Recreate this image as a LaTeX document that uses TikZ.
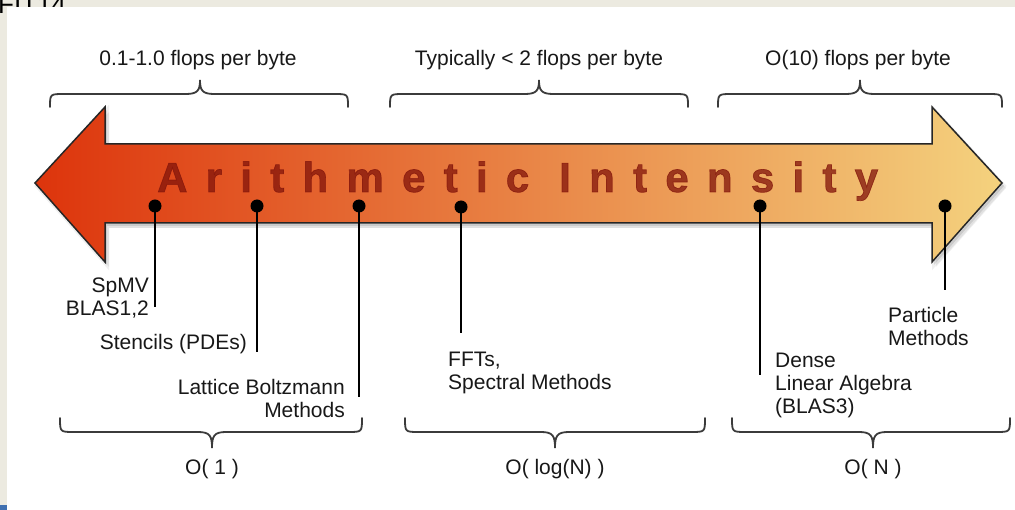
\documentclass[tikz,border=0pt]{standalone}
\usepackage{fontspec}
\setmainfont{Liberation Sans}
\newfontfamily\titlefont[LetterSpace=43.5,FakeBold=1.6]{Liberation Sans}
\definecolor{beige}{RGB}{236,234,224}
\definecolor{arrL}{RGB}{221,52,12}
\definecolor{arrM}{RGB}{228,120,68}
\definecolor{arrR}{RGB}{244,210,126}
\definecolor{titlec}{RGB}{130,20,10}
\definecolor{ink}{RGB}{24,24,24}
\definecolor{slideblue}{RGB}{64,112,176}
\newcommand\mybraceup[3]{%
  \draw[brc] (#1,107) .. controls (#1,94) .. (#1+14,94) -- (#2-14,94)
    .. controls (#2-2,94) and (#2,90) .. (#2,80)
    .. controls (#2,90) and (#2+2,94) .. (#2+14,94) -- (#3-14,94)
    .. controls (#3,94) .. (#3,107);}
\newcommand\mybracedown[3]{%
  \draw[brc] (#1,418) .. controls (#1,432) .. (#1+14,432) -- (#2-14,432)
    .. controls (#2-2,432) and (#2,436) .. (#2,448)
    .. controls (#2,436) and (#2+2,432) .. (#2+14,432) -- (#3-14,432)
    .. controls (#3,432) .. (#3,418);}
\def\arrowpath{(35,183) -- (105,107) -- (105,144) -- (932,144) -- (932,107) -- (1002,183) -- (932,262) -- (932,223) -- (105,223) -- (105,262) -- cycle}
\begin{document}
\begin{tikzpicture}[x=1pt,y=-1pt,
  brc/.style={draw=ink!85,line width=1.8pt,line cap=round},
  lead/.style={draw=black,line width=1.8pt},
  dot/.style={circle,fill=black,inner sep=0pt,minimum size=13pt},
  lbl/.style={font=\fontsize{21}{23}\selectfont,text=ink,inner sep=0pt},
  ttl/.style={font=\titlefont\bfseries\fontsize{42}{42}\selectfont,text=titlec,text opacity=0.75,inner sep=0pt}]
\useasboundingbox (0,0) rectangle (1015,510);
% slide frame
\fill[beige] (0,0) rectangle (1015,510);
\node[anchor=base west,font=\fontsize{26}{26}\selectfont,inner sep=0pt] (slidetitle) at (-2,14) {FIT14};
\fill[white] (7,7) rectangle (1015,510);
\fill[slideblue] (0,505) rectangle (7,510);
% arrow shadow
\fill[black,opacity=0.06,shift={(4,5)}] \arrowpath;
\fill[black,opacity=0.10,shift={(2,3)}] \arrowpath;
\draw[black,opacity=0.06,line width=4pt,shift={(2,3)}] \arrowpath;
% arrow
\shade[left color=arrL,middle color=arrM,right color=arrR] \arrowpath;
\draw[black!85,line width=1.5pt,line join=miter] \arrowpath;
\node[ttl,anchor=base west] (title) at (157,192) {Arithmetic Intensity};
% top braces and labels
\mybraceup{50}{200}{348}
\mybraceup{390}{539}{688}
\mybraceup{718}{860}{1002}
\node[lbl,anchor=base] (t1) at (198,66) {0.1-1.0 flops per byte};
\node[lbl,anchor=base] (t2) at (539,66) {Typically < 2 flops per byte};
\node[lbl,anchor=base] (t3) at (858,66) {O(10) flops per byte};
% bottom braces and labels
\mybracedown{60}{212}{362}
\mybracedown{405}{555}{705}
\mybracedown{732}{873}{1010}
\node[lbl,anchor=base] (b1) at (212,475) {O( 1 )};
\node[lbl,anchor=base] (b2) at (555,475) {O( log(N) )};
\node[lbl,anchor=base] (b3) at (873,475) {O( N )};
% dots
\node[dot] (d1) at (155,206) {};
\node[dot] (d2) at (257,206) {};
\node[dot] (d3) at (359,206) {};
\node[dot] (d4) at (461,207) {};
\node[dot] (d5) at (760,206) {};
\node[dot] (d6) at (945,206) {};
\coordinate (e1) at (155,307);
\coordinate (e2) at (257,352);
\coordinate (e3) at (359,397);
\coordinate (e4) at (461,333);
\coordinate (e5) at (760,375);
\coordinate (e6) at (945,290);
\draw[lead] (d1.center) -- (e1);
\draw[lead] (d2.center) -- (e2);
\draw[lead] (d3.center) -- (e3);
\draw[lead] (d4.center) -- (e4);
\draw[lead] (d5.center) -- (e5);
\draw[lead] (d6.center) -- (e6);
% labels
\node[lbl,align=right,anchor=north east] (l1) at (149,278) {SpMV\\BLAS1,2};
\node[lbl,align=right,anchor=north east] (l2) at (247,334) {Stencils (PDEs)};
\node[lbl,align=right,anchor=north east] (l3) at (345,379) {Lattice Boltzmann\\Methods};
\node[lbl,align=left,anchor=north west] (l4) at (448,352) {FFTs,\\Spectral Methods};
\node[lbl,align=left,anchor=north west] (l5) at (775,353) {Dense\\Linear Algebra\\(BLAS3)};
\node[lbl,align=left,anchor=north west] (l6) at (888,307) {Particle\\Methods};
\end{tikzpicture}
\end{document}
